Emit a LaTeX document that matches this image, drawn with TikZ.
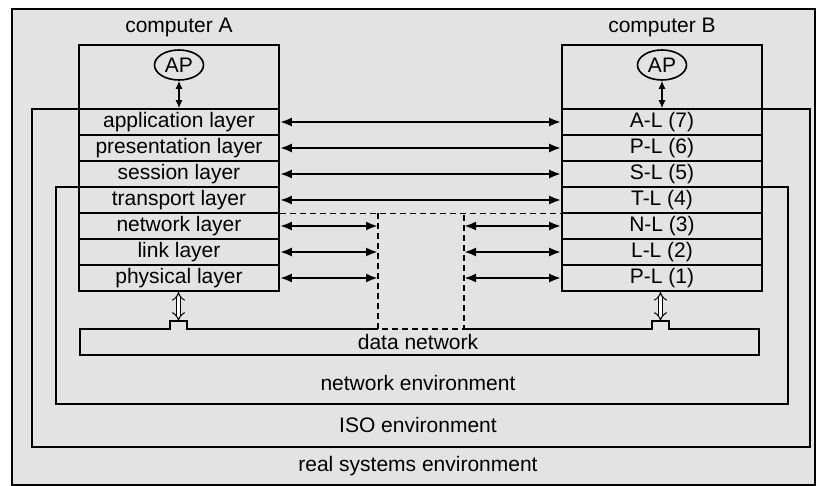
\documentclass[tikz,border=0pt]{standalone}
\usepackage{fontspec}
\setmainfont{Liberation Sans}
\usetikzlibrary{arrows.meta,shapes.geometric}

\begin{document}
\begin{tikzpicture}[x=0.5pt,y=-0.5pt,font=\fontsize{10.5}{12}\selectfont,line width=0.8pt,
		layer/.style={draw,minimum width=100pt,minimum height=13pt,inner sep=0pt},
		link/.style={line width=1.2pt,{Latex[length=6pt,width=4.5pt]}-{Latex[length=6pt,width=4.5pt]}},
		aplink/.style={line width=0.7pt,{Latex[length=4pt,width=3.5pt]}-{Latex[length=4pt,width=3.5pt]}},
		hollow/.style={double,double distance=1.8pt,line width=0.5pt,{Implies}-{Implies}},
		gap/.style={dashed,dash pattern=on 3pt off 2pt,line width=0.6pt}]
	\useasboundingbox (0,0) rectangle (816,486);
	\fill[white] (0,0) rectangle (816,486);
	\draw[fill=gray!22] (12,9) rectangle (815,485);
	% environments
	\draw (79,109)--(32,109)--(32,447)--(810,447)--(810,109)--(762,109);
	\draw (79,187)--(56,187)--(56,404)--(788,404)--(788,187)--(762,187);
	\node at (418,425) {ISO environment};
	\node at (418,383) {network environment};
	\node at (418,466) {real systems environment};
	% computer A
	\node at (179,27) {computer A};
	\draw (79,45) rectangle (279,109);
	\node[draw,ellipse,minimum width=24.5pt,minimum height=15pt,inner sep=0pt] (apa) at (179,65) {AP};
	\node[layer] (a7) at (179,122) {application layer};
	\node[layer] (a6) at (179,148) {presentation layer};
	\node[layer] (a5) at (179,174) {session layer};
	\node[layer] (a4) at (179,200) {transport layer};
	\node[layer] (a3) at (179,226) {network layer};
	\node[layer] (a2) at (179,252) {link layer};
	\node[layer] (a1) at (179,278) {physical layer};
	% computer B
	\node at (662,27) {computer B};
	\draw (562,45) rectangle (762,109);
	\node[draw,ellipse,minimum width=24.5pt,minimum height=15pt,inner sep=0pt] (apb) at (662,65) {AP};
	\node[layer] (b7) at (662,122) {A-L (7)};
	\node[layer] (b6) at (662,148) {P-L (6)};
	\node[layer] (b5) at (662,174) {S-L (5)};
	\node[layer] (b4) at (662,200) {T-L (4)};
	\node[layer] (b3) at (662,226) {N-L (3)};
	\node[layer] (b2) at (662,252) {L-L (2)};
	\node[layer] (b1) at (662,278) {P-L (1)};
	% data network
	\coordinate (gl) at (378,213);
	\coordinate (gr) at (464,213);
	\coordinate (pa) at (178.5,321);
	\coordinate (pb) at (660.5,321);
	\draw (378,329)--(187,329)--(187,321)--(170,321)--(170,329)--(80,329)--(80,355)
		--(759,355)--(759,329)--(669,329)--(669,321)--(652,321)--(652,329)--(464,329);
	\node at (418,342) {data network};
	\draw[gap] (a4.south east)--(b4.south west);
	\draw[gap] (gl)--(378,329)--(464,329)--(gr);
	% connections
	\draw[aplink] (apa.south)--(a7.north);
	\draw[aplink] (apb.south)--(b7.north);
	\draw[link] (a7)--(b7);
	\draw[link] (a6)--(b6);
	\draw[link] (a5)--(b5);
	\draw[link] (a4)--(b4);
	\draw[link] (a3.east)--(a3.east -| gl);
	\draw[link] (a2.east)--(a2.east -| gl);
	\draw[link] (a1.east)--(a1.east -| gl);
	\draw[link] (b3.west -| gr)--(b3.west);
	\draw[link] (b2.west -| gr)--(b2.west);
	\draw[link] (b1.west -| gr)--(b1.west);
	\draw[hollow] (a1.south -| pa)--(pa);
	\draw[hollow] (b1.south -| pb)--(pb);
\end{tikzpicture}
\end{document}
